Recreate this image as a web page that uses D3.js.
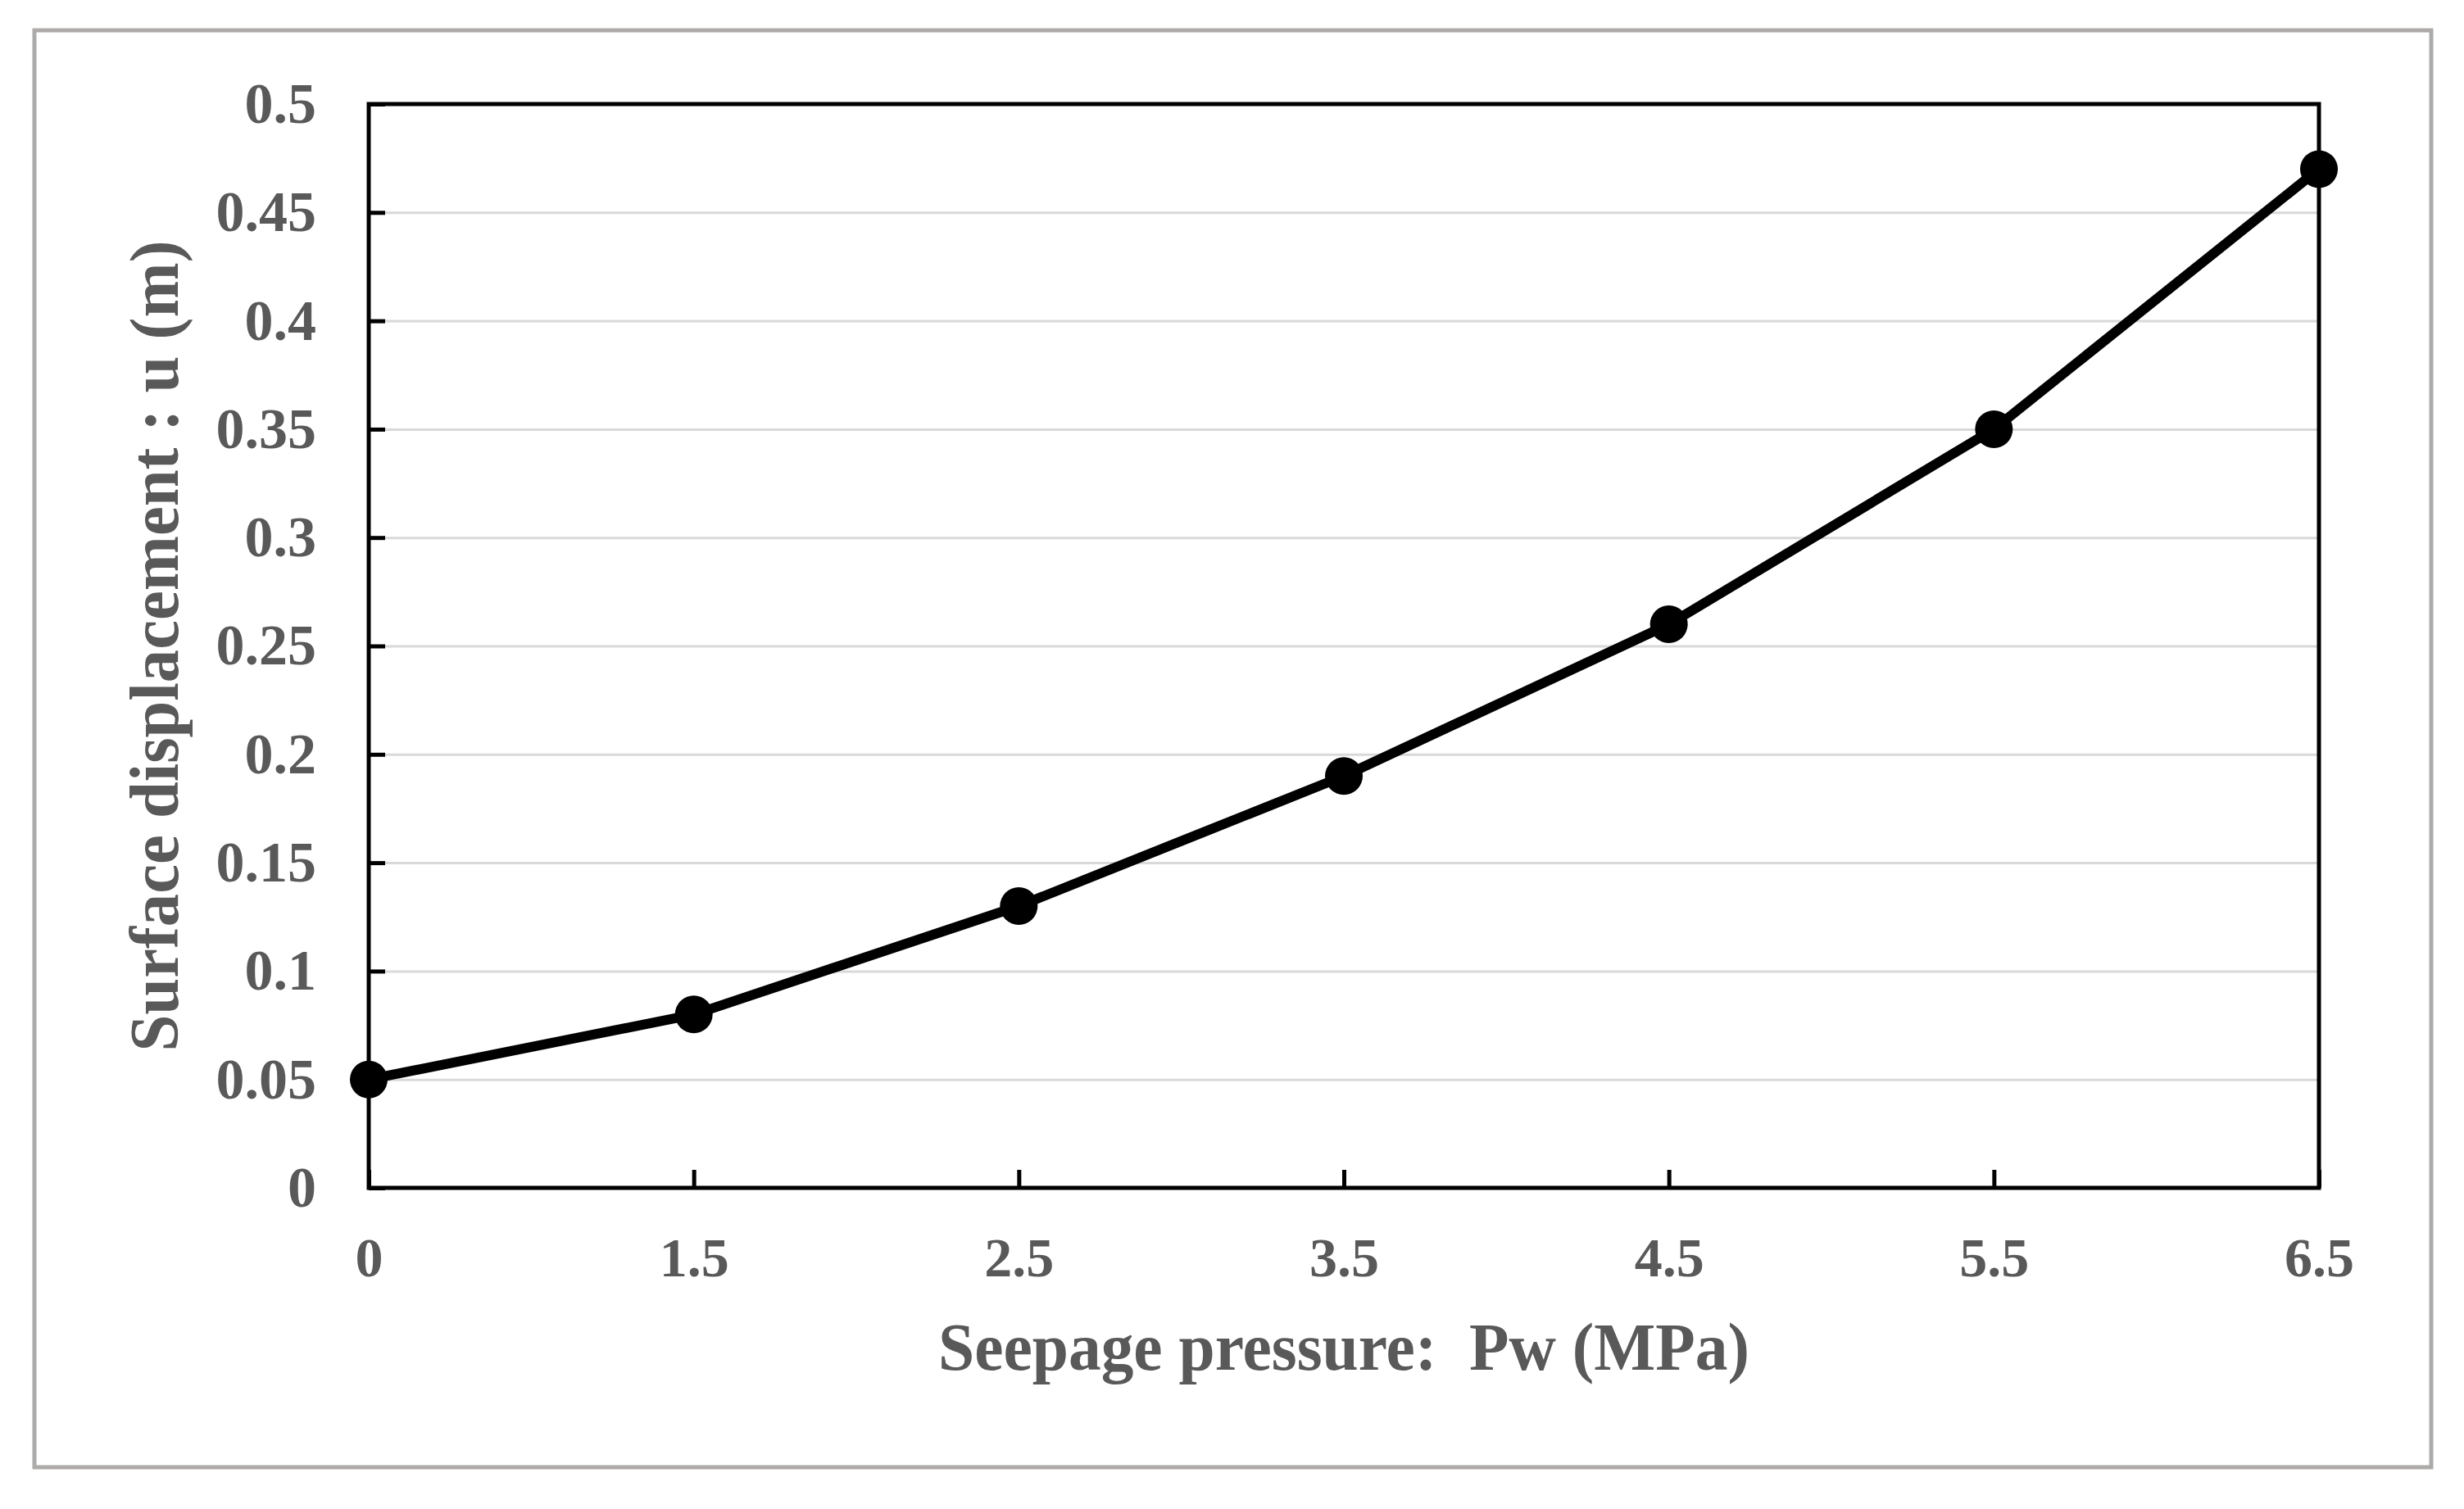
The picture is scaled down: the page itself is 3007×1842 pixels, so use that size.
<!DOCTYPE html>
<html>
<head>
<meta charset="utf-8">
<script src="https://cdn.jsdelivr.net/npm/d3@7"></script>
<style>
  body { margin: 0; background: #fff; }
  text { font-family: "Liberation Serif", "Times New Roman", serif; font-weight: bold; fill: #595959; }
</style>
</head>
<body>
<script>
// data
var pressure = ["0", "1.5", "2.5", "3.5", "4.5", "5.5", "6.5"];
var displacement = [0.05, 0.08, 0.13, 0.19, 0.26, 0.35, 0.47];
var yTicks = [0, 0.05, 0.1, 0.15, 0.2, 0.25, 0.3, 0.35, 0.4, 0.45, 0.5];
var xTitle = "Seepage pressure:  Pw (MPa)";
var yTitle = "Surface displacement : u (m)";

var W = 3007, H = 1842;
var margin = {top: 127, right: 177, bottom: 392, left: 450},
    width = W - margin.left - margin.right,
    height = H - margin.top - margin.bottom;

var root = d3.select("body").append("svg")
    .attr("width", W)
    .attr("height", H);

// outer frame
root.append("rect")
    .attr("x", 42).attr("y", 37)
    .attr("width", 2925).attr("height", 1754)
    .attr("fill", "#fff")
    .attr("stroke", "#aeaaaa")
    .attr("stroke-width", 5);

var svg = root.append("g")
    .attr("transform", "translate(" + margin.left + "," + margin.top + ")");

var xScale = d3.scalePoint()
    .domain(pressure)
    .range([0, width])
    .padding(0);

var yScale = d3.scaleLinear()
    .domain([0, 0.5])
    .range([height, 0]);

// gridlines
var grid = svg.append("g")
    .call(d3.axisLeft(yScale).tickValues(yTicks.slice(1, -1)).tickSize(-width).tickFormat(""));
grid.select(".domain").remove();
grid.selectAll("line").attr("stroke", "#d9d9d9").attr("stroke-width", 3);

// y axis
var yAxis = svg.append("g")
    .call(d3.axisLeft(yScale)
        .tickValues(yTicks)
        .tickSize(-20)
        .tickPadding(64)
        .tickFormat(function(d) { return String(+d.toFixed(2)); }));
yAxis.select(".domain").remove();
yAxis.selectAll("line").attr("stroke", "#000").attr("stroke-width", 5);
yAxis.selectAll("text").attr("font-size", 70).attr("fill", "#595959")
    .attr("font-family", "Liberation Serif").attr("font-weight", "bold");

// x axis
var xAxis = svg.append("g")
    .attr("transform", "translate(0," + height + ")")
    .call(d3.axisBottom(xScale).tickSize(-22).tickPadding(60));
xAxis.select(".domain").remove();
xAxis.selectAll("line").attr("stroke", "#000").attr("stroke-width", 5);
xAxis.selectAll("text").attr("font-size", 68).attr("fill", "#595959")
    .attr("font-family", "Liberation Serif").attr("font-weight", "bold");

// plot frame
svg.append("rect")
    .attr("width", width)
    .attr("height", height)
    .attr("fill", "none")
    .attr("stroke", "#000")
    .attr("stroke-width", 5);

var line = d3.line()
    .x(function(d, i) { return xScale(pressure[i]); })
    .y(function(d) { return yScale(d); });

svg.append("path")
    .datum(displacement)
    .attr("d", line)
    .attr("fill", "none")
    .attr("stroke", "#000")
    .attr("stroke-width", 12)
    .attr("stroke-linejoin", "round");

svg.selectAll(".dot")
    .data(displacement)
    .enter().append("circle")
    .attr("class", "dot")
    .attr("cx", function(d, i) { return xScale(pressure[i]); })
    .attr("cy", function(d) { return yScale(d); })
    .attr("r", 23)
    .attr("fill", "#000");

// axis titles
svg.append("text")
    .attr("x", width / 2)
    .attr("y", 1672 - margin.top)
    .attr("text-anchor", "middle")
    .attr("font-size", 82)
    .attr("textLength", 990)
    .attr("lengthAdjust", "spacingAndGlyphs")
    .style("white-space", "pre")
    .text(xTitle);

svg.append("text")
    .attr("transform", "translate(" + (217 - margin.left) + "," + (height / 2) + ") rotate(-90)")
    .attr("text-anchor", "middle")
    .attr("font-size", 84)
    .attr("textLength", 990)
    .attr("lengthAdjust", "spacingAndGlyphs")
    .text(yTitle);
</script>
</body>
</html>
